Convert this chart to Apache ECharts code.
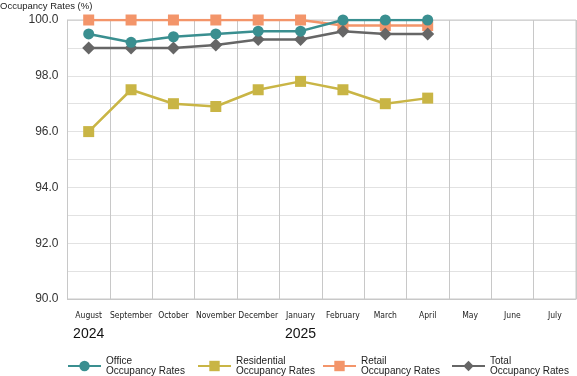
<!DOCTYPE html>
<html>
<head>
<meta charset="utf-8">
<script src="https://cdn.jsdelivr.net/npm/echarts@6/dist/echarts.min.js"></script>
<style>
  html, body { margin: 0; padding: 0; background: #fff; }
  #main { width: 577px; height: 376px; }
</style>
</head>
<body>
<div id="main"></div>
<script>
var months = ['August', 'September', 'October', 'November', 'December', 'January', 'February', 'March', 'April', 'May', 'June', 'July'];
var years = ['2024', '', '', '', '', '2025', '', '', '', '', '', ''];
var office = [99.5, 99.2, 99.4, 99.5, 99.6, 99.6, 100.0, 100.0, 100.0, null, null, null];
var residential = [96.0, 97.5, 97.0, 96.9, 97.5, 97.8, 97.5, 97.0, 97.2, null, null, null];
var retail = [100.0, 100.0, 100.0, 100.0, 100.0, 100.0, 99.8, 99.8, 99.8, null, null, null];
var total = [99.0, 99.0, 99.0, 99.1, 99.3, 99.3, 99.6, 99.5, 99.5, null, null, null];
var seriesNames = ['Office\nOccupancy Rates', 'Residential\nOccupancy Rates', 'Retail\nOccupancy Rates', 'Total\nOccupancy Rates'];
var colors = ['#3a8f90', '#c9b545', '#f3956a', '#666666'];
var legendLeft = [67, 197, 322, 451];

var chart = echarts.init(document.getElementById('main'));

var legends = seriesNames.map(function (name, i) {
  return {
    data: [name],
    left: legendLeft[i],
    top: 356,
    padding: 0,
    itemWidth: 33,
    itemHeight: 13,
    selectedMode: false,
    textStyle: {
      fontFamily: 'Liberation Sans',
      fontSize: 10,
      lineHeight: 10,
      color: '#222'
    }
  };
});

function lineSeries(i, data, symbol, size, z) {
  return {
    name: seriesNames[i],
    type: 'line',
    data: data,
    symbol: symbol,
    symbolSize: size,
    z: z,
    color: colors[i],
    lineStyle: { width: 2.5, color: colors[i] },
    itemStyle: { color: colors[i] },
    emphasis: { disabled: true }
  };
}

chart.setOption({
  backgroundColor: '#fff',
  animation: false,
  title: {
    text: 'Occupancy Rates (%)',
    left: 0,
    top: 1,
    padding: 0,
    textStyle: {
      fontFamily: 'Liberation Sans',
      fontSize: 9.5,
      fontWeight: 'normal',
      color: '#222'
    }
  },
  legend: legends,
  grid: {
    left: 67.5,
    right: 1,
    top: 20,
    bottom: 77,
    show: true,
    borderColor: '#c8c8c8',
    borderWidth: 1
  },
  xAxis: {
    type: 'category',
    data: months,
    boundaryGap: true,
    axisLine: { lineStyle: { color: '#c8c8c8' } },
    axisTick: { show: false },
    splitLine: { show: true, interval: 0, lineStyle: { color: '#c8c8c8', width: 1 } },
    axisLabel: {
      interval: 0,
      margin: 11,
      formatter: function (value, idx) {
        return '{m|' + value + '}\n{y|' + (years[idx] || ' ') + '}';
      },
      rich: {
        m: {
          fontFamily: 'DejaVu Sans Condensed',
          fontSize: 8.5,
          lineHeight: 12,
          color: '#222'
        },
        y: {
          fontFamily: 'Liberation Sans',
          fontSize: 14,
          lineHeight: 24,
          color: '#111'
        }
      }
    }
  },
  yAxis: {
    type: 'value',
    min: 90,
    max: 100,
    interval: 1,
    axisLine: { show: true, lineStyle: { color: '#c8c8c8' } },
    axisTick: { show: false },
    splitLine: { show: true, lineStyle: { color: '#c4c4c4', type: 'dotted', width: 1 } },
    axisLabel: {
      margin: 9,
      fontFamily: 'Liberation Sans',
      fontSize: 12,
      color: '#333',
      formatter: function (v) {
        return v % 2 === 0 ? v.toFixed(1) : '';
      }
    }
  },
  series: [
    lineSeries(0, office, 'circle', 11, 5),
    lineSeries(1, residential, 'rect', 11, 3),
    lineSeries(2, retail, 'rect', 11, 3),
    lineSeries(3, total, 'diamond', 13, 4)
  ]
});
</script>
</body>
</html>
